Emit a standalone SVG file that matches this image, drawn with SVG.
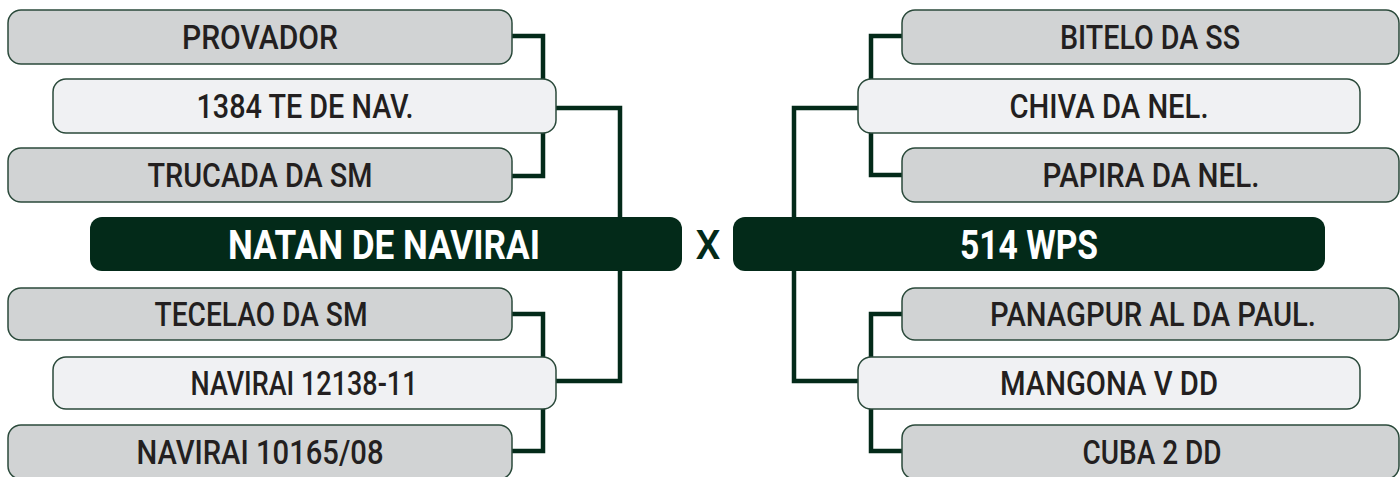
<svg xmlns="http://www.w3.org/2000/svg" width="1400" height="477" viewBox="0 0 1400 477">
<style>
.g{fill:#d1d3d4;stroke:#2b4a3b;stroke-width:1.5}
.l{fill:#f0f1f3;stroke:#2b4a3b;stroke-width:1.5}
.d{fill:#032a19}
.t{font-family:Roboto,"Liberation Sans",sans-serif;font-size:33px;font-weight:500;fill:#231f20;text-anchor:middle}
.w{font-family:Roboto,"Liberation Sans",sans-serif;font-size:40px;font-weight:700;fill:#ffffff;text-anchor:middle}
.x{font-family:Roboto,"Liberation Sans",sans-serif;font-size:40px;font-weight:500;fill:#032a19;text-anchor:middle}
.c{fill:none;stroke:#032a19;stroke-width:4.5;stroke-linejoin:miter}
</style>
<rect width="1400" height="477" fill="#ffffff"/>
<g id="connectors">
<path class="c" d="M512,36 H543 V80"/>
<path class="c" d="M543,132 V176 H512"/>
<path class="c" d="M556,108 H620 V381 H556"/>
<path class="c" d="M512,314 H543 V358"/>
<path class="c" d="M543,408 V451 H512"/>
<path class="c" d="M902,36 H871 V80"/>
<path class="c" d="M871,132 V175 H902"/>
<path class="c" d="M858,108 H794 V381 H858"/>
<path class="c" d="M902,314 H871 V358"/>
<path class="c" d="M871,408 V451 H902"/>
</g>
<g id="n-provador"><rect class="g" x="8" y="10" width="504" height="54" rx="13"/><text class="t" x="260" y="49" textLength="156" lengthAdjust="spacingAndGlyphs">PROVADOR</text></g>
<g id="n-1384"><rect class="l" x="53" y="79" width="503" height="54" rx="13"/><text class="t" x="305" y="118" textLength="217" lengthAdjust="spacingAndGlyphs">1384 TE DE NAV.</text></g>
<g id="n-trucada"><rect class="g" x="8" y="148" width="504" height="54" rx="13"/><text class="t" x="260" y="187" textLength="225" lengthAdjust="spacingAndGlyphs">TRUCADA DA SM</text></g>
<g id="n-natan"><rect class="d" x="90" y="217" width="592" height="54" rx="12"/><text class="w" x="384" y="259" textLength="312" lengthAdjust="spacingAndGlyphs">NATAN DE NAVIRAI</text></g>
<g id="n-x"><text class="x" x="708" y="259" textLength="25" lengthAdjust="spacingAndGlyphs">X</text></g>
<g id="n-514"><rect class="d" x="733" y="217" width="592" height="54" rx="12"/><text class="w" x="1029" y="259" textLength="138" lengthAdjust="spacingAndGlyphs">514 WPS</text></g>
<g id="n-tecelao"><rect class="g" x="8" y="288" width="504" height="52" rx="13"/><text class="t" x="261" y="326" textLength="213" lengthAdjust="spacingAndGlyphs">TECELAO DA SM</text></g>
<g id="n-12138"><rect class="l" x="53" y="357" width="503" height="52" rx="13"/><text class="t" x="304" y="395" textLength="227" lengthAdjust="spacingAndGlyphs">NAVIRAI 12138-11</text></g>
<g id="n-10165"><rect class="g" x="8" y="425" width="504" height="54" rx="13"/><text class="t" x="260" y="464" textLength="247" lengthAdjust="spacingAndGlyphs">NAVIRAI 10165/08</text></g>
<g id="n-bitelo"><rect class="g" x="902" y="10" width="497" height="54" rx="13"/><text class="t" x="1150" y="49" textLength="180" lengthAdjust="spacingAndGlyphs">BITELO DA SS</text></g>
<g id="n-chiva"><rect class="l" x="858" y="79" width="502" height="54" rx="13"/><text class="t" x="1109" y="118" textLength="199" lengthAdjust="spacingAndGlyphs">CHIVA DA NEL.</text></g>
<g id="n-papira"><rect class="g" x="902" y="148" width="497" height="54" rx="13"/><text class="t" x="1151" y="187" textLength="217" lengthAdjust="spacingAndGlyphs">PAPIRA DA NEL.</text></g>
<g id="n-panagpur"><rect class="g" x="902" y="288" width="497" height="52" rx="13"/><text class="t" x="1153" y="326" textLength="326" lengthAdjust="spacingAndGlyphs">PANAGPUR AL DA PAUL.</text></g>
<g id="n-mangona"><rect class="l" x="858" y="357" width="502" height="52" rx="13"/><text class="t" x="1109" y="395" textLength="218" lengthAdjust="spacingAndGlyphs">MANGONA V DD</text></g>
<g id="n-cuba"><rect class="g" x="902" y="425" width="497" height="54" rx="13"/><text class="t" x="1152" y="464" textLength="139" lengthAdjust="spacingAndGlyphs">CUBA 2 DD</text></g>
</svg>
